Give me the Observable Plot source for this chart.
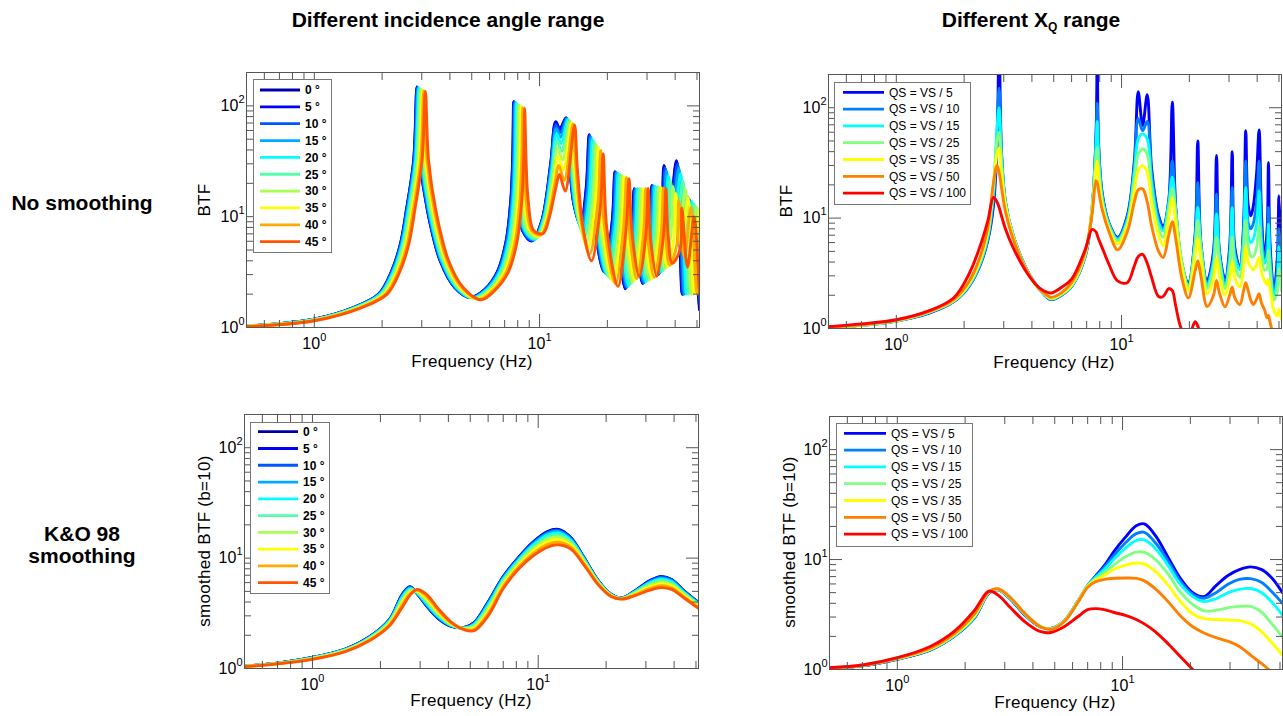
<!DOCTYPE html>
<html>
<head>
<meta charset="utf-8">
<script src="https://cdn.jsdelivr.net/npm/d3@7"></script>
<script src="https://cdn.jsdelivr.net/npm/@observablehq/plot@0.6"></script>
<style>
html,body{margin:0;padding:0;background:#fff;}
#page{position:relative;width:1283px;height:716px;overflow:hidden;background:#fff;}
#page > svg{position:absolute;}
</style>
</head>
<body>
<div id="page"></div>
<script>
// ---------------- categories / labels ----------------
const angles = [0, 5, 10, 15, 20, 25, 30, 35, 40, 45];
const angleColors = ["#0000aa","#0000ff","#0055ff","#00aaff","#00ffff","#55ffaa","#aaff55","#ffff00","#ffaa00","#ff5500"];
const qsDivisors = [5, 10, 15, 25, 35, 50, 100];
const qsColors = ["#0000ff","#0080ff","#00ffff","#80ff80","#ffff00","#ff8000","#ff0000"];
const xMajorTicks = [1, 10];
const xMinorTicks = [0.6,0.7,0.8,0.9,2,3,4,5,6,7,8,9,20,30,40,50];
const yMajorTicks = [1, 10, 100];
const yMinorTicks = [2,3,4,5,6,7,8,9,20,30,40,50,60,70,80,90];

// ---------------- panel 1: BTF, different incidence angles (frequency, BTF per angle) ----------------
const freqByAngle = [
 [0.5,1.0,1.5,1.93,2.2,2.41,2.56,2.76,2.855,2.95,3.18,3.62,4.2,4.92,5.7,6.5,7.1,7.45,7.6,7.67,7.78,7.95,8.4,9.25,10.2,11.2,11.8,12.3,13.1,13.5,14.2,15.2,16.1,16.6,17.2,19.3,21.0,21.6,22.3,24.0,25.7,26.3,27.0,28.7,30.8,31.5,32.2,33.6,35.0,35.7,37.8,40.5,43.0,45.5,51.3],
 [0.5,1.0,1.502,1.932,2.203,2.413,2.563,2.764,2.859,2.954,3.184,3.625,4.205,4.928,5.71,6.511,7.112,7.463,7.613,7.683,7.793,7.964,8.414,9.266,10.21,11.21,11.81,12.31,13.12,13.52,14.22,15.23,16.14,16.64,17.24,19.34,21.05,21.65,22.35,24.05,25.76,26.36,27.06,28.76,30.87,31.57,32.27,33.67,35.09,35.8,37.9,40.61,43.12,45.62,51.44],
 [0.5,1.0,1.508,1.94,2.211,2.423,2.573,2.774,2.87,2.965,3.197,3.639,4.222,4.953,5.739,6.544,7.148,7.501,7.652,7.722,7.833,8.004,8.457,9.313,10.25,11.23,11.83,12.34,13.17,13.57,14.28,15.3,16.24,16.74,17.35,19.47,21.18,21.79,22.49,24.21,25.92,26.53,27.23,28.95,31.07,31.77,32.48,33.89,35.39,36.09,38.22,40.95,43.47,46.0,51.86],
 [0.5,1.0,1.517,1.952,2.226,2.438,2.59,2.792,2.888,2.984,3.217,3.662,4.249,4.995,5.787,6.599,7.209,7.564,7.716,7.787,7.899,8.072,8.529,9.392,10.3,11.28,11.86,12.39,13.26,13.65,14.38,15.43,16.41,16.92,17.54,19.68,21.41,22.02,22.73,24.47,26.2,26.81,27.53,29.26,31.4,32.11,32.83,34.26,35.86,36.58,38.73,41.5,44.06,46.62,52.57],
 [0.5,1.0,1.531,1.969,2.245,2.459,2.612,2.816,2.913,3.01,3.245,3.694,4.286,5.052,5.853,6.675,7.291,7.65,7.804,7.876,7.989,8.164,8.626,9.499,10.38,11.34,11.9,12.46,13.37,13.77,14.52,15.6,16.65,17.17,17.79,19.96,21.72,22.34,23.06,24.82,26.58,27.2,27.93,29.68,31.86,32.58,33.3,34.75,36.53,37.26,39.45,42.27,44.87,47.48,53.54],
 [0.5,1.0,1.547,1.99,2.269,2.485,2.64,2.846,2.944,3.042,3.28,3.733,4.331,5.123,5.935,6.768,7.393,7.758,7.914,7.987,8.101,8.278,8.747,9.632,10.48,11.41,11.96,12.54,13.52,13.92,14.69,15.82,16.95,17.48,18.11,20.32,22.11,22.74,23.48,25.27,27.06,27.69,28.43,30.22,32.43,33.16,33.9,35.37,37.36,38.1,40.34,43.23,45.89,48.56,54.75],
 [0.5,1.0,1.566,2.015,2.297,2.516,2.673,2.881,2.981,3.08,3.32,3.779,4.385,5.207,6.032,6.879,7.514,7.884,8.043,8.117,8.234,8.413,8.89,9.789,10.59,11.5,12.02,12.65,13.69,14.09,14.88,16.08,17.3,17.84,18.48,20.74,22.57,23.21,23.97,25.79,27.62,28.26,29.02,30.84,33.1,33.85,34.61,36.11,38.34,39.11,41.41,44.36,47.1,49.84,56.19],
 [0.5,1.0,1.588,2.043,2.328,2.551,2.71,2.921,3.022,3.122,3.366,3.831,4.445,5.301,6.142,7.004,7.65,8.027,8.189,8.264,8.383,8.566,9.051,9.967,10.72,11.59,12.09,12.76,13.88,14.28,15.11,16.36,17.7,18.25,18.91,21.22,23.09,23.75,24.52,26.39,28.26,28.92,29.69,31.56,33.86,34.63,35.4,36.94,39.46,40.25,42.62,45.66,48.48,51.3,57.84],
 [0.5,1.0,1.611,2.072,2.362,2.588,2.749,2.964,3.066,3.168,3.415,3.887,4.51,5.403,6.259,7.138,7.797,8.181,8.346,8.422,8.543,8.73,9.224,10.157,10.86,11.69,12.17,12.88,14.08,14.48,15.35,16.67,18.14,18.7,19.37,21.74,23.65,24.33,25.12,27.03,28.95,29.62,30.41,32.33,34.69,35.48,36.27,37.85,40.69,41.5,43.94,47.08,49.99,52.89,59.64],
 [0.5,1.0,1.635,2.104,2.398,2.627,2.79,3.008,3.112,3.216,3.466,3.946,4.578,5.51,6.384,7.28,7.952,8.344,8.512,8.59,8.714,8.904,9.408,10.36,11.0,11.8,12.25,13.0,14.3,14.7,15.6,17.0,18.6,19.17,19.87,22.29,24.26,24.95,25.76,27.72,29.68,30.38,31.19,33.15,35.57,36.38,37.19,38.81,42.0,42.84,45.36,48.6,51.6,54.6,61.56]
];
const btfByAngle = [
 [1.03,1.19,1.52,2.0,3.2,5.65,11.3,32,148,32,11.3,4.0,2.3,1.87,2.2,3.2,6.0,14,35,109,32,14,7.5,6.05,9,30,72,62,78,35,13,8.5,18,55,12,3.2,9,25.4,8,2.24,7,17.8,6,2.5,7,19,7,3.0,10,29,11,32,2.0,15,1.45],
 [1.03,1.19,1.52,2.0,3.2,5.65,11.3,32,148,32,11.3,4.0,2.3,1.87,2.2,3.2,6.0,14,35,109,32,14,7.5,6.06,9,29.8,70.8,60.8,77.8,34.9,12.9,8.4,17.9,54.7,11.9,3.19,9,25.3,8,2.25,7,17.8,6,2.5,7,19,7,3.01,9.9,28.6,10.8,31.4,2.0,14.9,1.47],
 [1.03,1.19,1.52,2.0,3.2,5.65,11.3,32,147,32,11.3,4.0,2.3,1.86,2.2,3.2,6.0,14,35,108,32,14,7.5,6.11,9,29.1,67.4,57.4,77.3,34.5,12.6,8.1,17.6,53.7,11.7,3.14,8.9,25.2,7.9,2.28,7,17.8,6,2.52,7,18.9,7,3.04,9.6,27.5,10.3,29.8,2.0,14.6,1.51],
 [1.03,1.185,1.52,2.0,3.2,5.65,11.3,32,146,32,11.3,4.0,2.3,1.86,2.2,3.2,6.0,14,35,107,32,14,7.5,6.18,9.1,28.0,62.2,52.1,76.4,34.0,12.2,7.7,17.0,52.2,11.4,3.07,8.9,24.9,7.9,2.32,7,17.8,6,2.55,7,18.9,7,3.1,9.1,25.8,9.4,27.4,2.0,14.2,1.6],
 [1.03,1.18,1.52,2.0,3.2,5.65,11.3,32,145,32,11.3,4.0,2.3,1.85,2.2,3.2,6.0,14,35,106,32,14,7.5,6.27,9.1,26.6,55.7,45.8,75.3,33.2,11.6,7.1,16.4,50.1,10.9,2.98,8.7,24.5,7.7,2.38,7,17.8,6,2.59,7,18.8,7,3.17,8.5,23.6,8.4,24.4,2.0,13.7,1.72],
 [1.03,1.175,1.52,2.0,3.2,5.65,11.3,32,143,32,11.3,4.0,2.3,1.84,2.2,3.2,6.0,14,35,104,32,14,7.5,6.39,9.2,25.0,48.7,39.0,74.0,32.3,10.9,6.5,15.6,47.7,10.4,2.87,8.6,24.1,7.6,2.46,7,17.9,6,2.64,7,18.6,7,3.26,7.8,21.1,7.3,21.1,2.0,13.0,1.88],
 [1.025,1.17,1.52,2.0,3.2,5.65,11.3,32,141,32,11.3,4.0,2.3,1.82,2.2,3.2,6.0,14,35,102,32,14,7.5,6.53,9.25,23.2,41.6,32.5,72.3,31.3,10.2,5.8,14.7,45.1,9.8,2.74,8.5,23.6,7.5,2.55,7,17.9,6,2.69,7,18.5,7,3.38,7.1,18.7,6.2,17.9,2.0,12.3,2.09],
 [1.025,1.164,1.52,2.0,3.2,5.65,11.3,32,139,32,11.3,4.0,2.3,1.81,2.2,3.2,6.0,14,35,100,32,14,7.5,6.69,9.3,21.4,35.0,26.5,70.5,30.2,9.5,5.2,13.8,42.4,9.2,2.61,8.3,23.1,7.3,2.65,7,17.9,6,2.76,7,18.3,7,3.51,6.3,16.2,5.2,14.8,2.0,11.5,2.34],
 [1.02,1.157,1.52,2.0,3.2,5.65,11.3,32,137,32,11.3,4.0,2.3,1.80,2.2,3.2,6.0,14,35,97,32,14,7.5,6.86,9.4,19.7,29.0,21.3,68.7,29.1,8.7,4.6,12.9,39.6,8.6,2.48,8.2,22.6,7.2,2.77,7,18,6,2.83,7,18.2,7,3.65,5.6,14.0,4.3,12.2,2.0,10.8,2.65],
 [1.02,1.15,1.52,2.0,3.2,5.65,11.3,32,135,32,11.3,4.0,2.3,1.78,2.2,3.2,6.0,14,35,95,32,14,7.5,7.05,9.5,18,24,17,67,28,8,4.0,12,37,8,2.35,8,22,7,2.9,7,18,6,2.9,7,18,7,3.8,5,12,3.5,10,2.0,10,3.0]
];

// ---------------- panel 2: BTF, different QS ranges (shared frequency grid) ----------------
const qsFreq = [0.5,0.7,1.0,1.4,1.8,2.1,2.35,2.55,2.7,2.8,2.86,2.93,3.05,3.3,3.8,4.3,4.85,5.4,6.0,6.9,7.4,7.7,7.8,7.9,8.2,8.8,9.6,10.6,11.4,11.86,12.4,13.0,13.6,14.6,15.3,16.2,16.8,17.4,18.5,19.8,21.2,21.8,22.5,24.0,25.6,26.4,27.2,28.8,30.2,31.0,31.8,33.5,34.8,35.6,36.5,37.5,38.5,39.8,40.8,41.8,43.0,44.3,44.9,45.6,47.5,49.2,50.0,51.3];
const btfQs5   = [1.03,1.07,1.17,1.38,1.75,2.4,3.7,6.3,13,45,400,40,14,7,3.4,2.3,1.83,2.0,2.4,4.5,12,55,300,50,17,9,6.7,10.5,33,140,69,131,28,10.5,8.5,14.5,112,12.5,3.9,2.62,7,50,6,2.72,5,37,5,2.8,5.5,40,5.5,3.6,8.5,62,13,10.5,13,26,63,11,4.4,8,32,6,2.2,4.5,16,4];
const btfQs10  = [1.03,1.07,1.17,1.39,1.76,2.42,3.75,6.5,15,60,150,38,14,7,3.4,2.3,1.84,2.0,2.41,4.55,12.3,52,110,45,16.5,8.9,6.6,10.2,30,80,62,75,25,10,8.1,14,33,12,3.9,2.55,6.5,21,5.8,2.6,4.5,16.5,4.8,2.65,5.0,19,5,3.5,7.5,33,9,8,9,14,33,8,4.2,6,12.5,5,2.1,3.5,8,3.5];
const btfQs15  = [1.03,1.07,1.17,1.4,1.77,2.45,3.85,6.8,17,65,100,36,14,7,3.4,2.3,1.85,2.02,2.42,4.6,12.5,45,75,40,15.5,8.7,6.4,9.5,26,52,58,52,21,9,7.7,13.5,23.5,11.5,4.0,2.45,6,12.5,5.6,2.45,4.0,10.9,4.5,2.5,4.3,12.5,4.5,3.4,6.5,19,7,6,6.5,9,17.7,6,3.9,4.5,8.8,4,2.0,2.8,5.5,3.0];
const btfQs25  = [1.03,1.07,1.175,1.41,1.78,2.5,4.0,7.3,20,50,60,30,13.5,6.9,3.35,2.3,1.87,2.04,2.45,4.7,12.5,34,44,30,14,8.3,6.2,9,22,38,42.3,38,17,8,6.7,12,18.5,11,4.0,2.35,5.5,9.5,5.3,2.3,3.5,6.7,4.0,2.3,3.6,6.7,3.8,2.9,5.0,9.5,5.5,4.5,4.5,5.5,8.5,4.8,3.4,3.5,5.1,3.3,1.8,2.2,3.5,2.2];
const btfQs35  = [1.03,1.075,1.18,1.42,1.8,2.55,4.1,7.6,20,38,43,26,13,6.8,3.3,2.3,1.89,2.06,2.5,4.8,12,28,33,25,13.5,8.0,5.85,8.5,18,27,29.9,26,14,7,5.6,10,15,9,3.6,2.21,4.5,6.5,4.2,2.06,2.8,4.3,3.0,2.0,2.8,4.0,2.9,2.37,3.5,5.5,4.0,3.6,3.4,3.8,4.4,3.3,2.73,2.5,2.8,2.3,1.45,1.3,1.5,1.2];
const btfQs50  = [1.03,1.08,1.19,1.43,1.83,2.65,4.4,8.2,21,30,26,19,11.5,6.5,3.3,2.32,1.92,2.1,2.6,5.0,11,21.8,21,18,12,7.5,5.16,7.5,14,18,18.4,14,8.5,5.0,4.4,7,9.3,6.5,2.9,1.89,3.3,4.1,3.0,1.58,2.0,2.72,2.1,1.57,2.0,2.37,1.9,1.65,2.2,2.6,2.2,1.8,1.65,1.85,2.07,1.7,1.5,1.25,1.31,1.15,0.85,0.75,0.7,0.65];
const btfQs100 = [1.04,1.1,1.2,1.45,1.9,3.1,5.5,9.5,15.4,14,12.5,10.5,8,5.4,3.2,2.35,2.1,2.35,2.8,5.2,7.9,7.5,7.0,6.5,5.4,3.8,2.7,2.6,3.7,4.5,4.7,3.9,2.9,1.95,1.95,2.3,2.2,1.6,0.98,0.85,1.15,1.05,0.85,0.6,0.5,0.5,0.45,0.4,0.4,0.35,0.35,0.3,0.3,0.3,0.3,0.3,0.3,0.3,0.3,0.3,0.3,0.3,0.3,0.3,0.3,0.3,0.3,0.3];

// ---------------- panel 3: smoothed BTF, different angles ----------------
const smoothAngleFreq = [0.5,0.7,1.0,1.4,1.8,2.2,2.5,2.7,2.9,3.2,3.6,4.1,4.7,5.2,6.0,7.0,8.2,9.5,11,12.3,14,16,18.5,21,23.5,27,31,35,39,44,51.3];
const smoothByAngle = [
 [1.05,1.12,1.26,1.5,1.95,2.8,4.7,5.5,4.8,3.7,2.85,2.42,2.35,2.6,4.0,6.8,10.2,14,17.4,18.2,15.2,10,6.2,4.7,4.35,5.1,6.2,6.8,6.4,5.1,3.96],
 [1.05,1.12,1.26,1.5,1.95,2.79,4.68,5.49,4.81,3.71,2.86,2.42,2.35,2.59,3.98,6.77,10.16,13.94,17.32,18.11,15.15,9.98,6.19,4.7,4.35,5.09,6.18,6.78,6.38,5.09,3.95],
 [1.05,1.12,1.257,1.495,1.94,2.78,4.63,5.44,4.82,3.75,2.89,2.43,2.34,2.57,3.93,6.7,10.05,13.76,17.07,17.86,14.99,9.91,6.17,4.7,4.35,5.07,6.13,6.71,6.32,5.05,3.93],
 [1.05,1.12,1.253,1.489,1.93,2.75,4.54,5.37,4.85,3.82,2.93,2.45,2.34,2.54,3.85,6.59,9.87,13.48,16.68,17.44,14.73,9.8,6.13,4.69,4.34,5.03,6.04,6.59,6.22,5.0,3.9],
 [1.05,1.115,1.248,1.481,1.91,2.71,4.42,5.27,4.89,3.91,2.99,2.47,2.33,2.5,3.74,6.41,9.64,13.09,16.13,16.87,14.38,9.65,6.08,4.65,4.33,4.98,5.92,6.44,6.1,4.93,3.85],
 [1.05,1.113,1.242,1.471,1.89,2.67,4.27,5.16,4.94,4.03,3.07,2.5,2.31,2.45,3.61,6.22,9.35,12.63,15.51,16.22,13.97,9.48,6.02,4.63,4.31,4.91,5.78,6.26,5.94,4.84,3.79],
 [1.045,1.11,1.235,1.46,1.87,2.62,4.11,5.03,4.99,4.17,3.16,2.53,2.3,2.39,3.46,6.0,9.03,12.12,14.81,15.5,13.5,9.27,5.94,4.6,4.3,4.84,5.62,6.06,5.77,4.74,3.72],
 [1.045,1.107,1.227,1.447,1.85,2.56,3.95,4.89,5.06,4.33,3.26,2.57,2.28,2.33,3.31,5.77,8.69,11.58,14.07,14.72,13.01,9.06,5.87,4.57,4.28,4.76,5.45,5.84,5.58,4.63,3.65],
 [1.04,1.103,1.218,1.433,1.82,2.51,3.77,4.75,5.13,4.51,3.38,2.61,2.27,2.26,3.15,5.53,8.34,11.03,13.33,13.95,12.51,8.83,5.78,4.53,4.27,4.68,5.28,5.62,5.39,4.5,3.57],
 [1.04,1.10,1.21,1.42,1.8,2.45,3.6,4.6,5.2,4.7,3.5,2.65,2.25,2.2,3.0,5.3,8.0,10.5,12.6,13.2,12.0,8.6,5.7,4.5,4.25,4.6,5.1,5.4,5.2,4.4,3.5]
];

// ---------------- panel 4: smoothed BTF, different QS ----------------
const smoothQsFreq = [0.5,0.7,1.0,1.4,1.8,2.2,2.55,2.8,3.2,3.7,4.3,4.8,5.5,6.3,7.0,7.6,8.3,9.2,10.3,11.5,12.5,14,16,18,20.5,23,26,29.5,33,37,41.5,46,51.3];
const smoothQs5   = [1.03,1.08,1.24,1.5,2.02,2.95,4.95,5.3,4.3,3.1,2.45,2.36,2.75,4.1,5.8,7.1,8.8,12.0,16.0,20.3,21.1,16.5,10.3,6.8,5.0,4.6,5.8,7.2,8.1,8.58,8.1,6.8,5.0];
const smoothQs10  = [1.03,1.08,1.245,1.51,2.03,2.97,4.97,5.32,4.33,3.12,2.45,2.35,2.75,4.1,5.8,7.0,8.5,11.0,14.2,17.2,17.7,14.2,9.5,6.4,4.8,4.45,5.0,6.0,6.6,6.7,6.2,5.1,4.0];
const smoothQs15  = [1.03,1.085,1.25,1.52,2.05,3.0,5.0,5.33,4.36,3.15,2.46,2.35,2.75,4.1,5.8,6.9,8.1,10.2,12.7,14.9,15.1,12.6,8.7,6.0,4.6,4.15,4.4,5.0,5.35,5.45,5.0,4.1,3.12];
const smoothQs25  = [1.03,1.085,1.255,1.53,2.07,3.05,5.05,5.37,4.4,3.18,2.46,2.34,2.75,4.1,5.75,6.7,7.6,9.0,10.6,11.7,11.6,10.0,7.3,5.1,3.9,3.42,3.45,3.65,3.75,3.75,3.3,2.6,1.98];
const smoothQs35  = [1.035,1.09,1.26,1.54,2.1,3.1,5.08,5.4,4.42,3.2,2.47,2.33,2.74,4.05,5.7,6.5,7.2,8.2,8.9,9.3,9.1,7.8,5.8,4.2,3.2,2.9,2.85,2.82,2.78,2.6,2.2,1.75,1.35];
const smoothQs50  = [1.035,1.09,1.265,1.56,2.13,3.2,5.12,5.42,4.45,3.2,2.46,2.32,2.72,4.0,5.6,6.3,6.6,6.75,6.8,6.75,6.4,5.4,4.1,3.1,2.45,2.15,1.95,1.8,1.62,1.35,1.13,0.95,0.82];
const smoothQs100 = [1.04,1.1,1.28,1.62,2.25,3.45,5.15,4.75,3.6,2.7,2.22,2.17,2.45,3.0,3.5,3.58,3.5,3.3,3.1,2.85,2.6,2.2,1.7,1.32,1.0,0.8,0.65,0.55,0.5,0.45,0.4,0.35,0.3];

// ---------------- build ----------------
const FONT = '"Liberation Sans", Arial, Helvetica, sans-serif';
const page = document.getElementById("page");
const NS = "http://www.w3.org/2000/svg";
const toPoints = (fs, vs) => fs.map((f, j) => ({f, v: vs[j]}));

function makePanel(cfg) {
  const marks = [];
  cfg.series.forEach((pts, i) => {
    marks.push(Plot.line(pts, {x: "f", y: "v", stroke: cfg.colors[i], strokeWidth: 2.9, curve: cfg.curve, clip: true}));
  });
  const tk = {stroke: "#555", strokeWidth: 1, tickFormat: () => "", label: null};
  for (const anchor of ["bottom", "top"]) {
    marks.push(Plot.axisX(xMajorTicks, {...tk, anchor, tickSize: -13}));
    marks.push(Plot.axisX(xMinorTicks, {...tk, anchor, tickSize: -7}));
  }
  for (const anchor of ["left", "right"]) {
    marks.push(Plot.axisY(yMajorTicks, {...tk, anchor, tickSize: -13}));
    marks.push(Plot.axisY(yMinorTicks, {...tk, anchor, tickSize: -7}));
  }
  const fmt = d => "10^" + Math.round(Math.log10(d));
  marks.push(Plot.axisX(xMajorTicks, {anchor: "bottom", tickSize: 0, tickPadding: 10, tickFormat: fmt, label: null, fontSize: 16}));
  marks.push(Plot.axisY(yMajorTicks, {anchor: "left", tickSize: 0, tickPadding: 2, tickFormat: fmt, label: null, fontSize: 16}));
  marks.push(Plot.frame({stroke: "#555", strokeWidth: 1}));
  const svg = Plot.plot({
    width: cfg.width, height: cfg.height,
    marginLeft: cfg.m[0], marginRight: cfg.m[1], marginTop: cfg.m[2], marginBottom: cfg.m[3],
    x: {type: "log", domain: [0.5, 51.3]},
    y: {type: "log", domain: [1, 200]},
    style: {fontFamily: FONT, fontSize: "16px", color: "#000", background: "transparent", overflow: "visible"},
    marks
  });
  svg.querySelectorAll('g[aria-label$="tick label"] text').forEach(t => {
    const m = /^10\^(\d+)$/.exec(t.textContent);
    if (!m) return;
    t.textContent = "";
    const base = document.createElementNS(NS, "tspan"); base.textContent = "10";
    const sup = document.createElementNS(NS, "tspan"); sup.textContent = m[1];
    sup.setAttribute("dy", "-8"); sup.setAttribute("font-size", "11");
    t.append(base, sup);
  });
  svg.style.left = cfg.left + "px";
  svg.style.top = cfg.top + "px";
  page.appendChild(svg);
}

makePanel({
  series: freqByAngle.map((fs, i) => toPoints(fs, btfByAngle[i])),
  colors: angleColors, curve: "catmull-rom",
  left: 170, top: 60, width: 540, height: 320, m: [76, 11, 12, 53]
});
makePanel({
  series: [btfQs5, btfQs10, btfQs15, btfQs25, btfQs35, btfQs50, btfQs100].map(vs => toPoints(qsFreq, vs)),
  colors: qsColors, curve: "catmull-rom",
  left: 750, top: 60, width: 533, height: 320, m: [78, 2, 14, 52]
});
makePanel({
  series: smoothByAngle.map(vs => toPoints(smoothAngleFreq, vs)),
  colors: angleColors, curve: "catmull-rom",
  left: 170, top: 400, width: 540, height: 316, m: [74, 12, 14, 48]
});
makePanel({
  series: [smoothQs5, smoothQs10, smoothQs15, smoothQs25, smoothQs35, smoothQs50, smoothQs100].map(vs => toPoints(smoothQsFreq, vs)),
  colors: qsColors, curve: "catmull-rom",
  left: 750, top: 400, width: 533, height: 316, m: [79, 1, 16, 47]
});

// ---------------- overlay: titles, axis titles, legends ----------------
const ov = d3.create("svg").attr("width", 1283).attr("height", 716)
  .style("left", "0px").style("top", "0px").style("font-family", FONT);

function txt(x, y, s, opts = {}) {
  const t = ov.append("text").attr("x", x).attr("y", y).attr("text-anchor", opts.anchor || "middle")
    .attr("font-size", opts.size || 17).attr("font-weight", opts.weight || "normal").attr("fill", "#000");
  if (opts.rotate) t.attr("transform", `rotate(-90 ${x} ${y})`).attr("dy", "0.35em");
  if (opts.ls) t.attr("letter-spacing", opts.ls);
  t.text(s);
  return t;
}
txt(448, 27, "Different incidence angle range", {size: 21, weight: "bold"});
const t2 = ov.append("text").attr("x", 1031).attr("y", 27).attr("text-anchor", "middle")
  .attr("font-size", 21).attr("font-weight", "bold");
t2.append("tspan").text("Different X");
t2.append("tspan").attr("font-size", 12).attr("dy", 4).text("Q");
t2.append("tspan").attr("dy", -4).text(" range");

txt(82, 210, "No smoothing", {size: 21, weight: "bold"});
txt(82, 541, "K&O 98", {size: 21, weight: "bold"});
txt(82, 563, "smoothing", {size: 21, weight: "bold"});

txt(472, 367, "Frequency (Hz)", {ls: 0.3});
txt(1054, 368, "Frequency (Hz)", {ls: 0.3});
txt(471, 706, "Frequency (Hz)", {ls: 0.3});
txt(1055, 708, "Frequency (Hz)", {ls: 0.3});
txt(204, 200, "BTF", {rotate: true, ls: 0.3});
txt(786, 201, "BTF", {rotate: true, ls: 0.3});
txt(204, 541, "smoothed BTF (b=10)", {rotate: true, ls: 0.3});
txt(789, 542, "smoothed BTF (b=10)", {rotate: true, ls: 0.3});

function legend(box, labels, colors, weight) {
  const g = ov.append("g");
  g.append("rect").attr("x", box.x + 0.5).attr("y", box.y + 0.5).attr("width", box.w).attr("height", box.h)
    .attr("fill", "#fff").attr("stroke", "#777").attr("stroke-width", 1);
  labels.forEach((lab, i) => {
    const y = box.r0 + i * box.dr;
    g.append("line").attr("x1", box.l0).attr("x2", box.l1).attr("y1", y).attr("y2", y)
      .attr("stroke", colors[i]).attr("stroke-width", 2.8);
    g.append("text").attr("x", box.tx).attr("y", y).attr("dy", "0.36em").attr("font-size", 12)
      .attr("font-weight", weight).attr("fill", "#000").text(lab);
  });
}
const angleLabels = angles.map(a => `${a} °`);
const qsLabels = qsDivisors.map(n => `QS = VS / ${n}`);
legend({x: 253, y: 79, w: 78, h: 173, r0: 90, dr: 16.85, l0: 260, l1: 300, tx: 305}, angleLabels, angleColors, "bold");
legend({x: 834, y: 82, w: 136, h: 122, r0: 92.3, dr: 16.8, l0: 843, l1: 884, tx: 889}, qsLabels, qsColors, "normal");
legend({x: 250, y: 422, w: 79, h: 171, r0: 431.7, dr: 16.78, l0: 258, l1: 298, tx: 303}, angleLabels, angleColors, "bold");
legend({x: 836, y: 423, w: 136, h: 123, r0: 433.3, dr: 16.8, l0: 844, l1: 886, tx: 891}, qsLabels, qsColors, "normal");

page.appendChild(ov.node());
</script>
</body>
</html>
